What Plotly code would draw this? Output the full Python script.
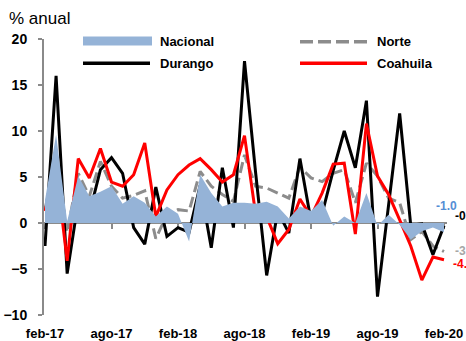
import plotly.graph_objects as go

# Monthly annual growth rates, feb-2017 .. feb-2020
meses = ["ene", "feb", "mar", "abr", "may", "jun", "jul", "ago", "sep", "oct", "nov", "dic"]
periodos = []
for anio in (17, 18, 19, 20):
    for m in meses:
        periodos.append(f"{m}-{anio}")
periodos = periodos[1:38]  # feb-17 .. feb-20

nacional = [2.5, 9.6, 0.2, 5.1, 2.9, 3.4, 4.0, 2.1, 2.9, 2.2, 0.7, 1.8, 1.0, -2.0,
            5.25, 3.25, 1.8, 2.2, 2.2, 2.1, 2.3, 1.8, 0.5, 1.8, 1.3, 2.5, -0.3, 0.7,
            0.0, 3.25, -0.3, 0.9, -0.2, -1.8, -0.9, -0.5, -1.0]
norte = [1.5, 6.9, -1.0, 5.4, 2.9, 6.7, 4.0, 2.7, 3.0, 3.5, -1.7, 0.9, 1.45, 1.3,
         5.6, 4.0, 3.1, 2.35, 7.4, 4.0, 3.8, 3.25, 2.7, 6.1, 4.9, 4.5, 5.4, 5.8,
         2.2, 6.5, 5.1, 2.7, 2.2, -1.8, -0.9, -2.5, -3.1]
durango = [-2.5, 16.0, -5.5, 2.35, 1.0, 5.8, 7.1, 5.4, -0.5, -2.3, 3.9, -1.45, -0.5,
           -1.0, 4.1, -2.7, 6.0, -0.5, 17.6, 5.5, -5.7, 1.3, -1.1, 7.0, 0.25, 1.0,
           5.7, 10.0, 6.0, 13.3, -8.0, 2.0, 11.9, -0.25, -0.1, -3.45, -0.3]
coahuila = [1.3, 6.0, -4.1, 7.0, 4.9, 8.1, 4.45, 4.0, 5.25, 8.7, 0.7, 3.6, 5.25, 6.3,
            7.0, 5.8, 4.45, 5.25, 9.5, 1.0, 0.7, -2.25, -0.7, 2.6, 0.7, 3.25, 6.4,
            6.5, -1.2, 10.8, 5.1, 3.1, 0.35, -2.5, -6.2, -3.7, -4.0]

etiquetas_x = periodos[::6]
valores_y = [-10, -5, 0, 5, 10, 15, 20]

AZUL = "#95B3D7"
GRIS = "#8C8C8C"
ROJO = "#FF0000"
NEGRO = "#000000"
FUENTE = "Liberation Sans, Arial, sans-serif"

W, H = 466, 341
ML, MR, MT, MB = 44, 19, 39, 26
PW, PH = W - ML - MR, H - MT - MB


def px(xp):
    return (xp - ML) / PW


def py(yp):
    return (H - MB - yp) / PH


fig = go.Figure()

fig.add_trace(go.Scatter(x=periodos, y=nacional, name="Nacional", mode="lines",
                         fill="tozeroy", fillcolor=AZUL, line=dict(width=0, color=AZUL),
                         xaxis="x2"))
fig.add_trace(go.Scatter(x=periodos, y=norte, name="Norte", mode="lines",
                         line=dict(color=GRIS, width=3, dash="11px,5px")))
fig.add_trace(go.Scatter(x=periodos, y=durango, name="Durango", mode="lines",
                         line=dict(color=NEGRO, width=3)))
fig.add_trace(go.Scatter(x=periodos, y=coahuila, name="Coahuila", mode="lines",
                         line=dict(color=ROJO, width=3)))

xr = [-0.09, 36.27]

fig.update_layout(
    width=W, height=H,
    margin=dict(l=ML, r=MR, t=MT, b=MB, pad=0, autoexpand=False),
    paper_bgcolor="white", plot_bgcolor="white",
    showlegend=False,
    font=dict(family=FUENTE, color="black"),
    xaxis=dict(type="category", categoryorder="array", categoryarray=periodos,
               range=xr, tickvals=etiquetas_x, ticktext=etiquetas_x,
               showgrid=False, zeroline=False, showline=False, automargin=False,
               ticks="", ticklabelstandoff=9,
               tickfont=dict(size=13, family=FUENTE, weight="bold")),
    xaxis2=dict(type="category", categoryorder="array", categoryarray=periodos,
                overlaying="x", matches="x", anchor="free", position=1 / 3,
                tickvals=etiquetas_x, showticklabels=False, showgrid=False,
                zeroline=False, showline=True, linecolor="#8A8A8A", linewidth=2,
                ticks="outside", ticklen=5, tickwidth=1.5, tickcolor="#8A8A8A",
                layer="below traces", automargin=False),
    yaxis=dict(range=[-10, 20], tickvals=valores_y, showgrid=False, zeroline=False,
               showline=True, linecolor="#8A8A8A", linewidth=2, automargin=False,
               ticks="outside", ticklen=4, tickwidth=1.5, tickcolor="#8A8A8A",
               ticklabelstandoff=8,
               tickfont=dict(size=14, family=FUENTE, weight="bold")),
)

# Legend drawn as two rows of keys
leyenda = [
    ("Nacional", 83, 41, "rect", AZUL, None),
    ("Durango", 83, 63.3, "line", NEGRO, None),
    ("Norte", 300, 41.7, "line", GRIS, "dash"),
    ("Coahuila", 300, 63.3, "line", ROJO, None),
]
for texto, x0, yc, tipo, color, dash in leyenda:
    if tipo == "rect":
        fig.add_shape(type="rect", xref="paper", yref="paper",
                      x0=px(x0), x1=px(x0 + 69), y0=py(yc + 4.5), y1=py(yc - 4.5),
                      fillcolor=color, line=dict(width=0))
    else:
        fig.add_shape(type="line", xref="paper", yref="paper",
                      x0=px(x0), x1=px(x0 + 67), y0=py(yc), y1=py(yc),
                      line=dict(color=color, width=3.5, dash="13px,5px" if dash else "solid"))
    fig.add_annotation(text=texto, xref="paper", yref="paper", x=px(x0 + 75), y=py(yc),
                       xanchor="left", yanchor="middle", showarrow=False,
                       font=dict(size=13, family=FUENTE, weight="bold", color="black"))

fig.add_annotation(text="% anual", xref="paper", yref="paper", x=px(7), y=py(18),
                   xanchor="left", yanchor="middle", showarrow=False,
                   font=dict(size=17, family=FUENTE, color="black"))

# Latest values at the end of each series
ultimo = periodos[-1]
finales = [
    (nacional[-1], "#558ED5", -10, 26),
    (durango[-1], NEGRO, 9, 10),
    (norte[-1], "#A6A6A6", 9, 1),
    (coahuila[-1], ROJO, 7, -4),
]
for valor, color, dx, dy in finales:
    fig.add_annotation(text=f"{valor:.1f}", x=ultimo, y=valor, xref="x", yref="y",
                       xanchor="left", yanchor="middle", xshift=dx, yshift=dy,
                       showarrow=False,
                       font=dict(size=12, family=FUENTE, weight="bold", color=color))

fig.write_html("out.html")
